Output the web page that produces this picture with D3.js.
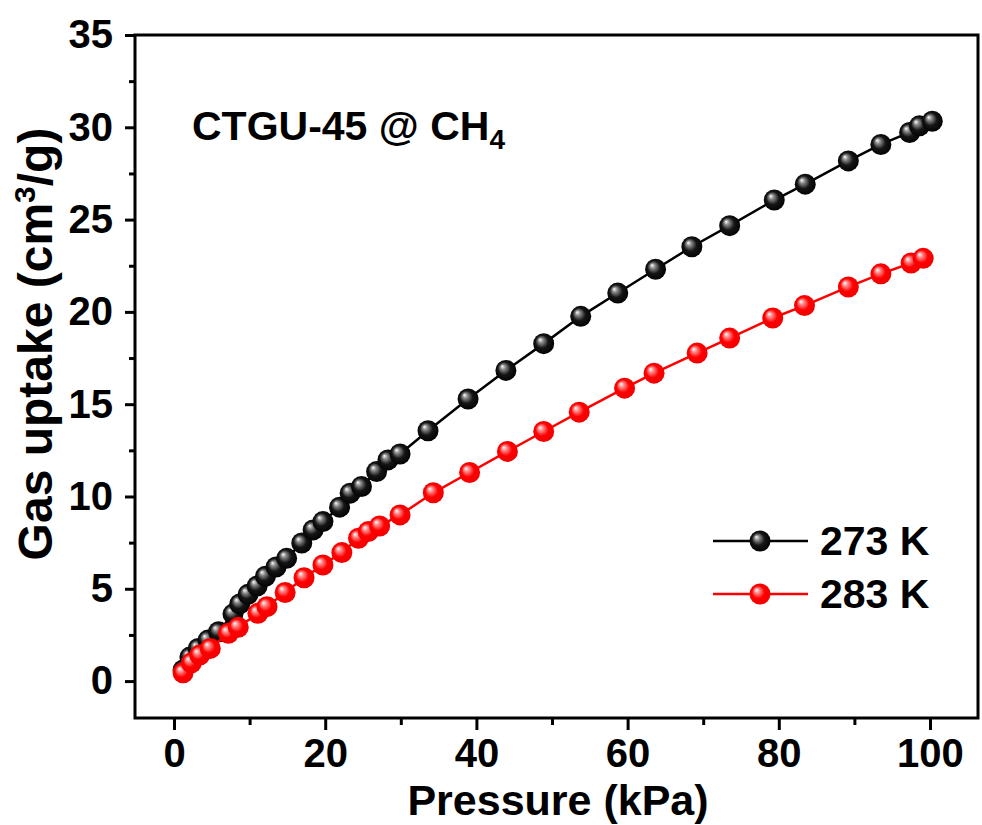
<!DOCTYPE html>
<html><head><meta charset="utf-8">
<script src="https://cdn.jsdelivr.net/npm/d3@7"></script>
<style>body{margin:0;background:#fff}svg{display:block}text{font-family:"Liberation Sans",Arial,sans-serif;font-weight:bold}</style>
</head><body>
<script>
const xTicks = [0, 20, 40, 60, 80, 100];
const xMinorTicks = [10, 30, 50, 70, 90];
const yTicks = [0, 5, 10, 15, 20, 25, 30, 35];
const yMinorTicks = [2.5, 7.5, 12.5, 17.5, 22.5, 27.5, 32.5];
const seriesNames = ["273 K", "283 K"];
const p273 = [1.2,2.1,3.2,4.5,5.9,7.8,8.7,9.8,11.0,12.1,13.5,14.9,16.9,18.4,19.7,21.9,23.3,24.8,26.8,28.3,29.9,33.6,38.9,43.9,48.9,53.8,58.7,63.7,68.5,73.5,79.4,83.5,89.2,93.5,97.3,98.6,100.3];
const u273 = [0.6,1.3,1.77,2.22,2.67,3.63,4.18,4.7,5.15,5.68,6.18,6.65,7.48,8.19,8.64,9.42,10.18,10.54,11.35,11.98,12.3,13.56,15.28,16.83,18.28,19.76,21.02,22.31,23.53,24.67,26.06,26.92,28.18,29.07,29.72,30.08,30.33];
const p283 = [1.2,2.3,3.4,4.8,7.2,8.5,11.1,12.3,14.7,17.2,19.7,22.2,24.4,25.7,27.2,29.9,34.3,39.1,44.1,48.9,53.6,59.6,63.5,69.2,73.5,79.2,83.4,89.2,93.5,97.5,99.1];
const u283 = [0.45,0.99,1.41,1.77,2.59,2.91,3.67,4.03,4.8,5.6,6.29,6.96,7.74,8.1,8.4,9.0,10.2,11.3,12.44,13.52,14.57,15.87,16.68,17.77,18.58,19.67,20.34,21.35,22.06,22.65,22.9];
const colors = ["#000000", "#ff0000"];

const W = 982, H = 825;
const L = 135, R = 978, T = 35, B = 718;
const svg = d3.select("body").append("svg").attr("width", W).attr("height", H);
const defs = svg.append("defs");
const g1 = defs.append("radialGradient").attr("id","gBlack").attr("cx","50%").attr("cy","50%").attr("r","55%").attr("fx","32%").attr("fy","30%");
g1.append("stop").attr("offset","0%").attr("stop-color","#ffffff");
g1.append("stop").attr("offset","22%").attr("stop-color","#8a8a8a");
g1.append("stop").attr("offset","55%").attr("stop-color","#151515");
g1.append("stop").attr("offset","100%").attr("stop-color","#000000");
const g2 = defs.append("radialGradient").attr("id","gRed").attr("cx","50%").attr("cy","50%").attr("r","55%").attr("fx","32%").attr("fy","30%");
g2.append("stop").attr("offset","0%").attr("stop-color","#ffffff");
g2.append("stop").attr("offset","22%").attr("stop-color","#ff8a8a");
g2.append("stop").attr("offset","55%").attr("stop-color","#ff0000");
g2.append("stop").attr("offset","100%").attr("stop-color","#f00000");
const grads = ["url(#gBlack)", "url(#gRed)"];

const x = d3.scaleLinear().domain([-5.16, 106.35]).range([L, R]);
const y = d3.scaleLinear().domain([-2.0, 35]).range([B, T]);

const xAxis = d3.axisBottom(x).tickValues(xTicks).tickSize(12).tickPadding(9).tickFormat(d3.format("d"));
const xMinor = d3.axisBottom(x).tickValues(xMinorTicks).tickSize(7).tickFormat("");
const yAxis = d3.axisLeft(y).tickValues(yTicks).tickSize(10).tickPadding(12).tickFormat(d3.format("d"));
const yMinor = d3.axisLeft(y).tickValues(yMinorTicks).tickSize(6).tickFormat("");

function styleAxis(sel){
  sel.select(".domain").remove();
  sel.selectAll(".tick line").attr("stroke","#000").attr("stroke-width",3);
  sel.selectAll(".tick text").attr("fill","#000").style("font-size","40px");
}
svg.append("g").attr("transform",`translate(0,${B})`).call(xAxis).call(styleAxis);
svg.append("g").attr("transform",`translate(0,${B})`).call(xMinor).call(styleAxis);
svg.append("g").attr("transform",`translate(${L},0)`).call(yAxis).call(styleAxis);
svg.append("g").attr("transform",`translate(${L},0)`).call(yMinor).call(styleAxis);

svg.append("rect").attr("x",L).attr("y",T).attr("width",R-L).attr("height",B-T)
  .attr("fill","none").attr("stroke","#000").attr("stroke-width",3);

const series = [
  {name: seriesNames[0], px: p273, py: u273},
  {name: seriesNames[1], px: p283, py: u283}
];
const line = d3.line().x(d=>x(d[0])).y(d=>y(d[1]));
series.forEach((s,i)=>{
  const pts = s.px.map((v,k)=>[v, s.py[k]]);
  svg.append("path").datum(pts).attr("d",line).attr("fill","none").attr("stroke",colors[i]).attr("stroke-width",2.5);
  svg.append("g").selectAll("circle").data(pts).join("circle")
    .attr("cx",d=>x(d[0])).attr("cy",d=>y(d[1])).attr("r",10.5).attr("fill",grads[i]);
});

const legY = [541, 594];
series.forEach((s,i)=>{
  svg.append("line").attr("x1",713).attr("x2",808).attr("y1",legY[i]).attr("y2",legY[i]).attr("stroke",colors[i]).attr("stroke-width",2.5);
  svg.append("circle").attr("cx",760).attr("cy",legY[i]).attr("r",10.5).attr("fill",grads[i]);
  svg.append("text").attr("x",820).attr("y",legY[i]+14).style("font-size","41px").text(s.name);
});

const ann = svg.append("text").attr("x",192).attr("y",140).style("font-size","41px");
ann.append("tspan").text("CTGU-45 @ CH");
ann.append("tspan").attr("dy",9).style("font-size","28px").text("4");

svg.append("text").attr("x",558).attr("y",815).attr("text-anchor","middle").style("font-size","43px").text("Pressure (kPa)");
const yt = svg.append("text").attr("transform","translate(52,344) rotate(-90)").attr("text-anchor","middle").style("font-size","48px");
yt.append("tspan").text("Gas uptake (cm");
yt.append("tspan").attr("dy",-17).style("font-size","30px").text("3");
yt.append("tspan").attr("dy",17).text("/g)");
</script>
</body></html>
